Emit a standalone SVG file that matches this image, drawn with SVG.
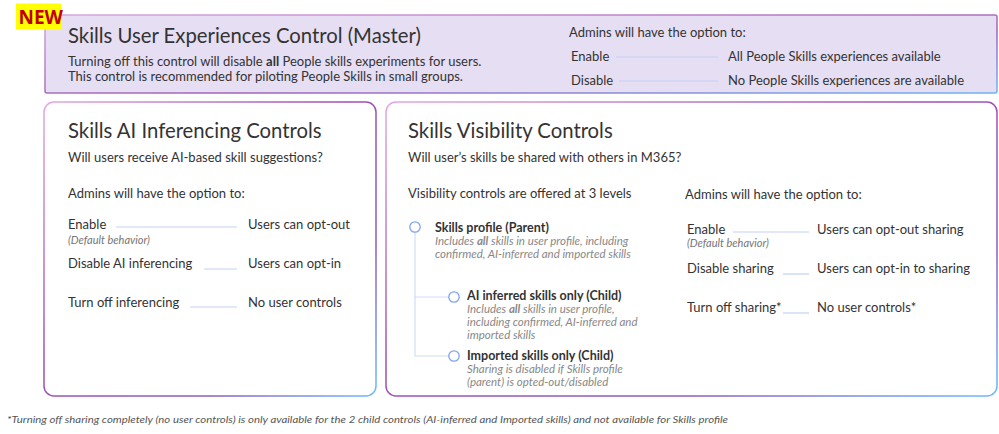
<svg xmlns="http://www.w3.org/2000/svg" width="999" height="434" viewBox="0 0 999 434">
<defs>
<linearGradient id="gMaster" x1="0" y1="0" x2="1" y2="1">
<stop offset="0" stop-color="#D9A6E0"/>
<stop offset="0.6" stop-color="#A463B8"/>
<stop offset="1" stop-color="#6FB3F5"/>
</linearGradient>
<linearGradient id="gBox" x1="0" y1="0" x2="1" y2="1">
<stop offset="0" stop-color="#E3A8E8"/>
<stop offset="0.45" stop-color="#A050B0"/>
<stop offset="0.75" stop-color="#8D5DC0"/>
<stop offset="1" stop-color="#6BBAFF"/>
</linearGradient>
<style>
text{font-family:Lato,"Noto Sans","DejaVu Sans",sans-serif;fill:#333}
.h{font-size:20.3px}
.b{font-size:13px}
.bb{font-size:12.5px;font-weight:bold}
.i{font-size:11px;font-style:italic;fill:#767676}
.ii{font-size:11.5px;font-style:italic;fill:#888}
.ln{stroke:#C2D2F5;stroke-width:1.2;fill:none}
.tree{stroke:#CFDDF8;stroke-width:1.2;fill:none}
.dot{fill:#fff;stroke:#7FA3EE;stroke-width:1.3}
</style>
</defs>

<g id="master">
<rect x="45" y="15" width="952" height="78" rx="2" fill="#E6DEF3" stroke="url(#gMaster)" stroke-width="1.5"/>
<text class="h" x="68" y="43">Skills User Experiences Control (Master)</text>
<text class="b" x="68" y="66">Turning off this control will disable <tspan font-weight="bold">all</tspan> People skills experiments for users.</text>
<text class="b" x="68" y="81">This control is recommended for piloting People Skills in small groups.</text>
<text class="b" x="569" y="37">Admins will have the option to:</text>
<text class="b" x="571" y="61">Enable</text>
<line class="ln" x1="616" y1="57" x2="718" y2="57"/>
<text class="b" x="728" y="61">All People Skills experiences available</text>
<text class="b" x="571" y="85">Disable</text>
<line class="ln" x1="619" y1="81" x2="718" y2="81"/>
<text class="b" x="728" y="85">No People Skills experiences are available</text>
</g>

<g id="new-badge">
<rect x="16" y="3.5" width="45" height="26" fill="#FFFF00"/>
<text x="18.5" y="24" style="font-family:'Noto Sans',sans-serif;font-size:19px;font-weight:bold;fill:#C00000">NEW</text>
</g>

<g id="ai-inferencing">
<rect x="44" y="102" width="332" height="294" rx="10" fill="#fff" stroke="url(#gBox)" stroke-width="1.5"/>
<text class="h" x="68" y="138">Skills AI Inferencing Controls</text>
<text class="b" x="68" y="162">Will users receive AI-based skill suggestions?</text>
<text class="b" x="68" y="198">Admins will have the option to:</text>
<text class="b" x="68" y="229">Enable</text>
<line class="ln" x1="116" y1="227" x2="237" y2="227"/>
<text class="b" x="248" y="229">Users can opt-out</text>
<text class="i" x="68" y="244">(Default behavior)</text>
<text class="b" x="68" y="268">Disable AI inferencing</text>
<line class="ln" x1="204" y1="269" x2="237" y2="269"/>
<text class="b" x="248" y="268">Users can opt-in</text>
<text class="b" x="68" y="307">Turn off inferencing</text>
<line class="ln" x1="190" y1="307" x2="237" y2="307"/>
<text class="b" x="248" y="307">No user controls</text>
</g>

<g id="visibility">
<rect x="386" y="102" width="611" height="294" rx="10" fill="#fff" stroke="url(#gBox)" stroke-width="1.5"/>
<text class="h" x="408" y="138">Skills Visibility Controls</text>
<text class="b" x="408" y="162">Will user’s skills be shared with others in M365?</text>
<text class="b" x="408" y="198">Visibility controls are offered at 3 levels</text>
</g>

<g id="connectors">
<path class="tree" d="M415 232 V356 H449 M415 297 H449"/>
</g>

<g id="skills-profile">
<circle class="dot" cx="415" cy="227" r="5.2"/>
<text class="bb" x="435" y="232">Skills profile (Parent)</text>
<text class="ii" x="435" y="245">Includes <tspan font-weight="bold">all</tspan> skills in user profile, including</text>
<text class="ii" x="435" y="258">confirmed, AI-inferred and imported skills</text>
</g>

<g id="ai-inferred-child">
<circle class="dot" cx="454" cy="297" r="5.2"/>
<text class="bb" x="467" y="300">AI inferred skills only (Child)</text>
<text class="ii" x="467" y="313">Includes <tspan font-weight="bold">all</tspan> skills in user profile,</text>
<text class="ii" x="467" y="326">including confirmed, AI-inferred and</text>
<text class="ii" x="467" y="339">imported skills</text>
</g>

<g id="imported-child">
<circle class="dot" cx="454" cy="356" r="5.2"/>
<text class="bb" x="467" y="360">Imported skills only (Child)</text>
<text class="ii" x="467" y="373">Sharing is disabled if Skills profile</text>
<text class="ii" x="467" y="386">(parent) is opted-out/disabled</text>
</g>

<g id="sharing-options">
<text class="b" x="685" y="199">Admins will have the option to:</text>
<text class="b" x="687" y="234">Enable</text>
<line class="ln" x1="733" y1="232" x2="809" y2="232"/>
<text class="b" x="817" y="234">Users can opt-out sharing</text>
<text class="i" x="687" y="247">(Default behavior)</text>
<text class="b" x="687" y="273">Disable sharing</text>
<line class="ln" x1="783" y1="274" x2="809" y2="274"/>
<text class="b" x="817" y="273">Users can opt-in to sharing</text>
<text class="b" x="687" y="312">Turn off sharing*</text>
<line class="ln" x1="783" y1="313" x2="809" y2="313"/>
<text class="b" x="817" y="312">No user controls*</text>
</g>

<g id="footnote">
<text x="7" y="423" textLength="721" lengthAdjust="spacingAndGlyphs" style="font-size:9.5px;font-style:italic;fill:#555">*Turning off sharing completely (no user controls) is only available for the 2 child controls (AI-inferred and Imported skills) and not available for Skills profile</text>
</g>
</svg>
